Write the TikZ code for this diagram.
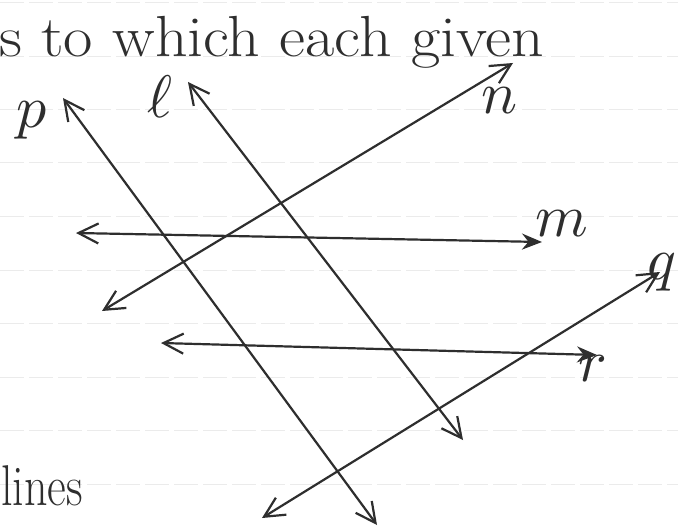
\documentclass[tikz,border=0pt]{standalone}
\usepackage{xcolor}
\usepackage{tikz}
\usetikzlibrary{arrows.meta}
\definecolor{PenGray}{HTML}{2E2E2E}
\definecolor{RuleGray}{HTML}{EBEBEB}
\newcommand{\penlbl}[1]{\scalebox{6}{$#1$}}

\begin{document}
\begin{tikzpicture}[x=1pt,y=-1pt,
  penline/.style={<->,>={Straight Barb[length=20pt,width=20pt]},line width=2.2pt,PenGray,line cap=round,line join=round},
  penfill/.style={{Straight Barb[length=20pt,width=20pt]}-{Stealth[length=20pt,width=16pt]},line width=2.2pt,PenGray,line cap=round,line join=round},
  rule/.style={RuleGray,line width=0.8pt,dash pattern=on 24pt off 5pt},
  lbl/.style={text=PenGray,inner sep=0pt,font=\normalsize},
  note/.style={text=PenGray,inner sep=0pt,font=\fontsize{58}{60}\selectfont}
]
\path[fill=white,use as bounding box] (0,0) rectangle (678,527);
% notebook rules
\foreach \ry in {2,56,109,162,216,270,323,377,430,484}
  \draw[rule] (0,\ry) -- (678,\ry);
% text on the page
\node[note,anchor=base west] (top) at (-1,57) {\scalebox{1.1}[1]{s to which each given}};
\node[note,anchor=base west,font=\fontsize{46}{50}\selectfont] (low) at (1,505) {\scalebox{1}[1.25]{lines}};
% line ends
\coordinate (p1) at (63,98);
\coordinate (p2) at (377,525);
\coordinate (l1) at (188,82);
\coordinate (l2) at (463,440);
\coordinate (n1) at (513,63);
\coordinate (n2) at (102,311);
\coordinate (m1) at (76,233);
\coordinate (m2) at (542,242);
\coordinate (q1) at (660,272);
\coordinate (q2) at (262,518);
\coordinate (r1) at (161,343);
\coordinate (r2) at (597,355);
\draw[penline] (p2) -- (p1);
\draw[penline] (l2) -- (l1);
\draw[penline] (n2) -- (n1);
\draw[penfill] (m1) -- (m2);
\draw[penline] (q2) -- (q1);
\draw[penfill] (r1) -- (r2);
% labels
\node[lbl] (plab) at (32,120) {\penlbl{p}};
\node[lbl] (llab) at (160,97) {\penlbl{\ell}};
\node[lbl] (nlab) at (500,101) {\penlbl{n}};
\node[lbl] (mlab) at (562,224) {\penlbl{m}};
\node[lbl] (qlab) at (662,272) {\penlbl{q}};
\node[lbl] (rlab) at (593,369) {\penlbl{r}};
\end{tikzpicture}
\end{document}
